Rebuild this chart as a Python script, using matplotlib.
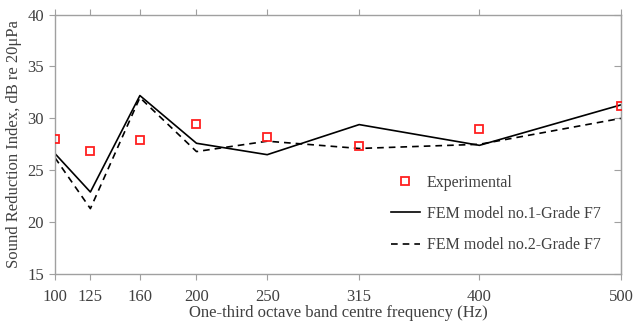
import matplotlib
matplotlib.use("Agg")
import matplotlib.pyplot as plt

plt.rcParams['font.family'] = ['Liberation Serif', 'DejaVu Serif']

# one-third octave band centre frequencies (Hz)
freqs = [100, 125, 160, 200, 250, 315, 400, 500]
tick_labels = ['100', '125', '160', '200', '250', '315', '400', '500']

# sound reduction index, dB
experimental = [28.0, 26.9, 27.9, 29.5, 28.2, 27.3, 29.0, 31.2]
fem_model_1 = [26.6, 22.9, 32.2, 27.6, 26.5, 29.4, 27.4, 31.3]
fem_model_2 = [26.2, 21.3, 32.0, 26.8, 27.8, 27.1, 27.5, 30.0]

txt = '#404040'
edge = '#a0a0a0'

fig = plt.figure(figsize=(6.33, 3.25), dpi=100)
ax = fig.add_axes([0.0869, 0.157, 0.894, 0.798])

ax.plot(freqs, experimental, linestyle='none', marker='s', markersize=5.5,
        markerfacecolor='none', markeredgecolor='#ff2020', markeredgewidth=1.3,
        label='Experimental', zorder=3)
ax.plot(freqs, fem_model_1, color='black', linewidth=1.2,
        label='FEM model no.1-Grade F7')
ax.plot(freqs, fem_model_2, color='black', linewidth=1.2, dashes=(4, 3),
        label='FEM model no.2-Grade F7')

ax.set_xlim(100, 500)
ax.set_ylim(15, 40)
ax.set_xticks(freqs)
ax.set_xticklabels(tick_labels)
ax.set_yticks([15, 20, 25, 30, 35, 40])

for s in ax.spines.values():
    s.set_color(edge)
    s.set_linewidth(1.0)

ax.tick_params(axis='x', direction='out', length=4, color=edge, pad=7,
               labelsize=12, labelcolor=txt, top=True)
ax.tick_params(axis='y', direction='out', length=4, color=edge, pad=4,
               labelsize=12, labelcolor=txt)
ax2 = ax.secondary_yaxis('right')
ax2.set_yticks([15, 20, 25, 30, 35, 40])
ax2.tick_params(direction='in', length=5, color=edge, labelright=False)
ax2.spines['right'].set_color(edge)

ax.set_xlabel('One-third octave band centre frequency (Hz)', fontsize=12,
              color=txt, labelpad=0)
ax.set_ylabel('Sound Reduction Index, dB re 20\u03bcPa', fontsize=12,
              color=txt, labelpad=4)

leg = ax.legend(loc='lower right', bbox_to_anchor=(0.99, 0.025), frameon=False,
                fontsize=11.5, labelspacing=0.95, handlelength=1.8,
                handletextpad=0.45)
for t in leg.get_texts():
    t.set_color(txt)

fig.savefig('out.png', dpi=100)
